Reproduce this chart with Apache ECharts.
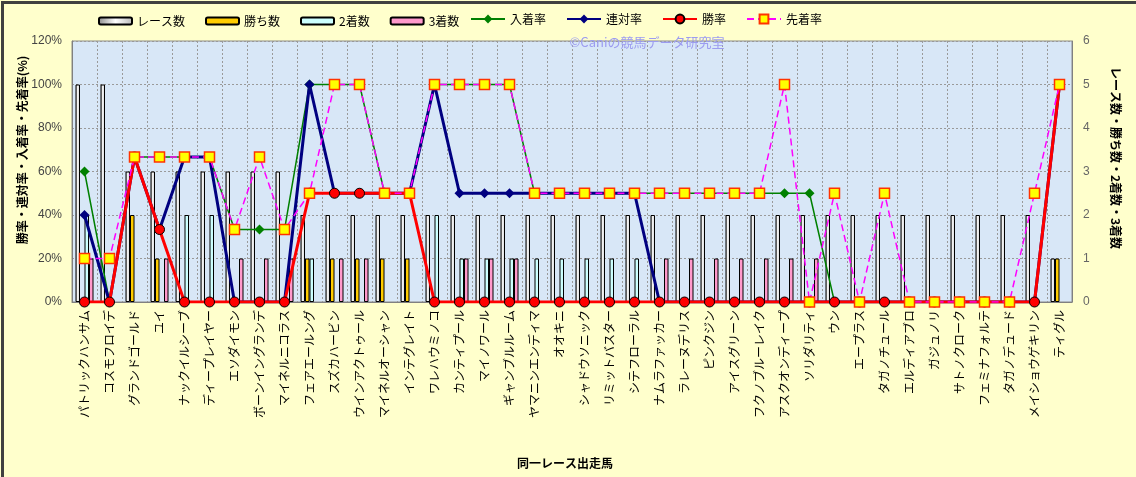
<!DOCTYPE html>
<html>
<head>
<meta charset="utf-8">
<script src="https://cdn.jsdelivr.net/npm/echarts@6/dist/echarts.min.js"></script>
<style>
html,body{margin:0;padding:0;background:#FFFFCC;}
#chart{width:1136px;height:477px;}
</style>
</head>
<body>
<div id="chart"></div>
<script>
const horses = ['パトリックハンサム','コスモフロイデ','グランドゴールド','ユイ','ナックイルシーブ','ディープレイヤー','エソダイモン','ボーンイングランデ','マイネルニコラス','フェアエールング','スズカハービン','ウインアクトゥール','マイネルオーシャン','インテグレイト','ワレハウミノコ','カンティプール','マイノワール','ギャンブルルーム','ヤマニンエンディマ','オオキニ','シャドウソニック','リミットバスター','シテフローラル','ナムラファッカー','ラレーヌデリス','ピンクジン','アイスグリーン','フクノブルーレイク','アスクオンディープ','ソリダリティ','ウン','エープラス','タガノチュール','エルディアブロ','ガジュノリ','サトノクローク','フェミナフォルテ','タガノデュード','メイショウゲキリン','ティグル'];
const races  = [5,5,3,3,3,3,3,3,3,2,2,2,2,2,2,2,2,2,2,2,2,2,2,2,2,2,2,2,2,2,2,2,2,2,2,2,2,2,2,1];
const wins   = [0,0,2,1,0,0,0,0,0,1,1,1,1,1,0,0,0,0,0,0,0,0,0,0,0,0,0,0,0,0,0,0,0,0,0,0,0,0,0,1];
const seconds= [2,0,0,0,2,2,0,0,0,1,0,0,0,0,2,1,1,1,1,1,1,1,1,0,0,0,0,0,0,0,0,0,0,0,0,0,0,0,0,0];
const thirds = [1,0,0,1,0,0,1,1,1,0,1,1,0,0,0,1,1,1,0,0,0,0,0,1,1,1,1,1,1,1,0,0,0,0,0,0,0,0,0,0];
const placeRate = [60,0,66.67,66.67,66.67,66.67,33.33,33.33,33.33,100,100,100,50,50,100,100,100,100,50,50,50,50,50,50,50,50,50,50,50,50,0,0,0,0,0,0,0,0,0,100];
const rentaiRate = [40,0,66.67,33.33,66.67,66.67,0,0,0,100,50,50,50,50,100,50,50,50,50,50,50,50,50,0,0,0,0,0,0,0,0,0,0,0,0,0,0,0,0,100];
const winRate = [0,0,66.67,33.33,0,0,0,0,0,50,50,50,50,50,0,0,0,0,0,0,0,0,0,0,0,0,0,0,0,0,0,0,0,0,0,0,0,0,0,100];
const aheadRate = [20,20,66.67,66.67,66.67,66.67,33.33,66.67,33.33,50,100,100,50,50,100,100,100,100,50,50,50,50,50,50,50,50,50,50,100,0,50,0,50,0,0,0,0,0,50,100];
const leftTicks = [0,20,40,60,80,100,120];
const rightTicks = [0,1,2,3,4,5,6];

const FONT = '"Noto Sans CJK JP", "Noto Sans", sans-serif';
const nz = arr => arr.map(v => v === 0 ? '-' : v);
const chart = echarts.init(document.getElementById('chart'));
const raceFill = new echarts.graphic.LinearGradient(0,0,1,0,[
  {offset:0,color:'#8a8a8a'},{offset:0.5,color:'#ffffff'},{offset:1,color:'#b8b8b8'}]);
const barBase = {type:'bar', yAxisIndex:1, barGap:'0%', barCategoryGap:'28%'};
const option = {
  backgroundColor:'#FFFFCC',
  textStyle:{fontFamily:FONT},
  animation:false,
  legend:[{
    left:93, top:10, itemWidth:33, itemHeight:7, itemGap:20,
    textStyle:{fontSize:12,color:'#000',fontFamily:FONT},
    data:['レース数','勝ち数','2着数','3着数']
  },{
    left:465, top:8, itemWidth:34, itemHeight:11, itemGap:20,
    textStyle:{fontSize:12,color:'#000',fontFamily:FONT},
    data:['入着率','連対率','勝率','先着率']
  }],
  grid:{left:72,right:64,top:41,bottom:175,show:true,backgroundColor:'#D8E7F7',borderColor:'#8c8c8c',borderWidth:1},
  xAxis:{
    type:'category', data:horses,
    axisTick:{show:false},
    axisLine:{lineStyle:{color:'#808080'}},
    axisLabel:{rotate:90,interval:0,fontSize:12,color:'#000',margin:8,fontFamily:FONT},
    splitLine:{show:true,lineStyle:{color:'#9a9a9a',type:[2,2],width:1}}
  },
  yAxis:[{
    type:'value', min:leftTicks[0], max:leftTicks[leftTicks.length-1], interval:20,
    axisLine:{show:true,lineStyle:{color:'#808080'}},
    axisTick:{show:false},
    axisLabel:{formatter:'{value}%',fontSize:12,color:'#444',margin:10,fontFamily:'"Liberation Sans", Arial, sans-serif'},
    splitLine:{show:true,lineStyle:{color:'#9a9a9a',type:[2,2],width:1}}
  },{
    type:'value', min:rightTicks[0], max:rightTicks[rightTicks.length-1], interval:1, position:'right',
    axisLine:{show:true,lineStyle:{color:'#808080'}},
    axisTick:{show:false},
    axisLabel:{fontSize:12,color:'#666',margin:11,fontFamily:'"Liberation Sans", Arial, sans-serif'},
    splitLine:{show:false}
  }],
  graphic:[
    {type:'rect',left:0,top:0,shape:{width:1136,height:477},style:{fill:'none',stroke:'#404040',lineWidth:3},silent:true,z:100},
    {type:'text',x:22,y:150,rotation:Math.PI/2,style:{text:'勝率・連対率・入着率・先着率(%)',align:'center',verticalAlign:'middle',fontSize:12,fontWeight:'bold',fill:'#000',fontFamily:FONT}},
    {type:'text',x:1116,y:158,rotation:-Math.PI/2,style:{text:'レース数・勝ち数・2着数・3着数',align:'center',verticalAlign:'middle',fontSize:12,fontWeight:'bold',fill:'#000',fontFamily:FONT}},
    {type:'text',x:565,y:463,style:{text:'同一レース出走馬',align:'center',verticalAlign:'middle',fontSize:12,fontWeight:'bold',fill:'#000',fontFamily:FONT}},
    {type:'text',x:647,y:42,z:50,style:{text:'©Caniの競馬データ研究室',align:'center',verticalAlign:'middle',fontSize:13,fill:'#9C9CF0',fontFamily:FONT}}
  ],
  series:[
    Object.assign({},barBase,{name:'レース数',data:nz(races),itemStyle:{color:raceFill,borderColor:'#000',borderWidth:1}}),
    Object.assign({},barBase,{name:'勝ち数',data:nz(wins),itemStyle:{color:'#FFCC00',borderColor:'#000',borderWidth:1}}),
    Object.assign({},barBase,{name:'2着数',data:nz(seconds),itemStyle:{color:'#CCFFFF',borderColor:'#000',borderWidth:1}}),
    Object.assign({},barBase,{name:'3着数',data:nz(thirds),itemStyle:{color:'#FF99CC',borderColor:'#000',borderWidth:1}}),
    {type:'line',name:'入着率',yAxisIndex:0,data:placeRate,symbol:'diamond',symbolSize:10,
      lineStyle:{color:'#008000',width:1.5},itemStyle:{color:'#008000',borderColor:'#008000',borderWidth:0}},
    {type:'line',name:'連対率',yAxisIndex:0,data:rentaiRate,symbol:'diamond',symbolSize:10,
      lineStyle:{color:'#000080',width:3},itemStyle:{color:'#000080',borderColor:'#000080',borderWidth:0}},
    {type:'line',name:'勝率',yAxisIndex:0,data:winRate,symbol:'circle',symbolSize:10,
      lineStyle:{color:'#FF0000',width:3},itemStyle:{color:'#FF0000',borderColor:'#000',borderWidth:1}},
    {type:'line',name:'先着率',yAxisIndex:0,data:aheadRate,symbol:'rect',symbolSize:10,
      lineStyle:{color:'#FF00FF',width:1.5,type:[7,4]},itemStyle:{color:'#FFFF00',borderColor:'#FF3300',borderWidth:1.5}}
  ]
};
chart.setOption(option);
</script>
</body>
</html>
